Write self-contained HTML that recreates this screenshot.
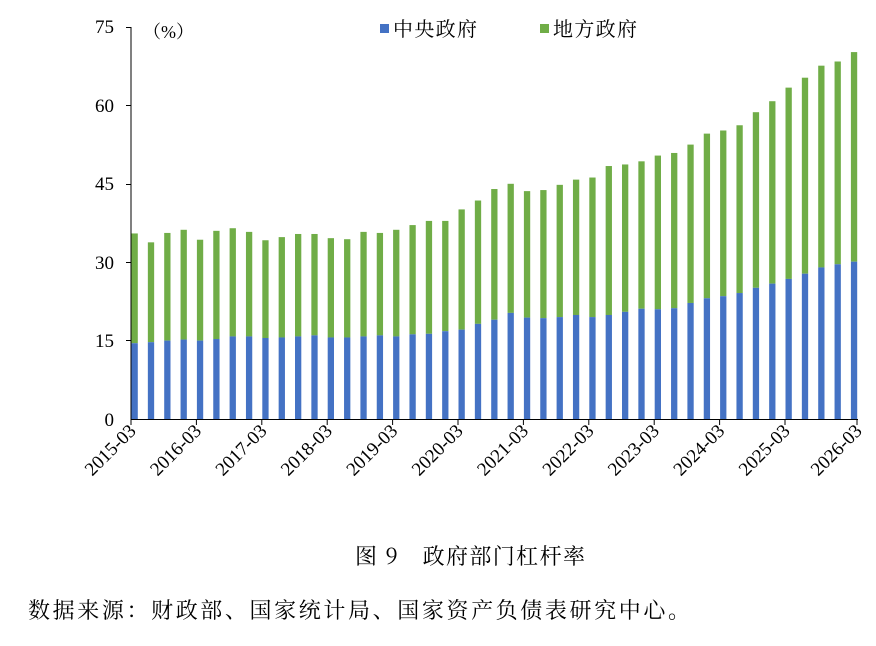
<!DOCTYPE html>
<html><head><meta charset="utf-8">
<style>
body{margin:0;background:#fff;width:876px;height:641px;overflow:hidden;}
svg text{font-family:"Liberation Serif","Noto Serif CJK SC",serif;fill:#000;}
</style></head><body>
<svg id="s" width="876" height="641" xmlns="http://www.w3.org/2000/svg">
<text x="143" y="38" font-size="18">（%）</text>
<rect x="380" y="24" width="9" height="9" fill="#4472C4"/>
<text x="393" y="36" font-size="20" textLength="84" style="font-family:'Noto Serif CJK SC',serif">中央政府</text>
<rect x="540" y="24" width="9" height="9" fill="#70AD47"/>
<text x="553" y="36" font-size="20" textLength="84" style="font-family:'Noto Serif CJK SC',serif">地方政府</text>
<g font-size="19" text-anchor="end">
<text x="114" y="426">0</text><text x="114" y="347">15</text><text x="114" y="269">30</text>
<text x="114" y="190">45</text><text x="114" y="112">60</text><text x="114" y="33">75</text>
</g>
<g id="bars"></g>
<line x1="131" y1="27" x2="131" y2="419" stroke="#000"/>
<g stroke="#000"><line x1="126" y1="27.5" x2="131" y2="27.5"/><line x1="126" y1="105.5" x2="131" y2="105.5"/><line x1="126" y1="184.5" x2="131" y2="184.5"/><line x1="126" y1="262.5" x2="131" y2="262.5"/><line x1="126" y1="340.5" x2="131" y2="340.5"/></g>
<line x1="131" y1="419.5" x2="858" y2="419.5" stroke="#000"/>
<g id="xt"></g>
<text x="355" y="564" font-size="22" textLength="230" style="font-family:'Noto Serif CJK SC',serif">图 9　政府部门杠杆率</text>
<text x="28" y="618" font-size="22" textLength="662" style="font-family:'Noto Serif CJK SC',serif">数据来源：财政部、国家统计局、国家资产负债表研究中心。</text>
</svg>
<script>
var T=[35.5,33.8,35.6,36.2,34.3,36,36.5,35.8,34.2,34.8,35.4,35.4,34.6,34.4,35.8,35.6,36.2,37.1,37.9,37.9,40.1,41.8,44,45,43.6,43.8,44.8,45.8,46.2,48.4,48.7,49.3,50.4,50.9,52.5,54.6,55.2,56.2,58.7,60.8,63.4,65.3,67.6,68.4,70.2];
var B=[14.5,14.7,15,15.2,15,15.3,15.8,15.8,15.5,15.6,15.8,16,15.6,15.6,15.8,16,15.8,16.2,16.3,16.8,17.1,18.2,19,20.3,19.4,19.3,19.5,19.9,19.5,19.9,20.5,21.1,21,21.2,22.2,23.1,23.5,24.1,25.1,25.9,26.8,27.8,29,29.6,30.1];
var s=5.2267,h='',x='';
for(var i=0;i<45;i++){var l=131.5+i*16.35;
h+='<rect x="'+l+'" y="'+(419-T[i]*s)+'" width="6.3" height="'+((T[i]-B[i])*s)+'" fill="#70AD47"/>';
h+='<rect x="'+l+'" y="'+(419-B[i]*s)+'" width="6.3" height="'+(B[i]*s)+'" fill="#4472C4"/>';}
for(var k=0;k<12;k++){var t=131+k*4*16.35;if(k==11)t=857;
x+='<line x1="'+t+'" y1="419" x2="'+t+'" y2="425" stroke="#000"/>';
x+='<text font-size="19" text-anchor="end" transform="translate('+(t+6)+',432) rotate(-45)">'+(2015+k)+'-03</text>';}
document.getElementById('bars').innerHTML=h;document.getElementById('xt').innerHTML=x;
</script>
</body></html>
